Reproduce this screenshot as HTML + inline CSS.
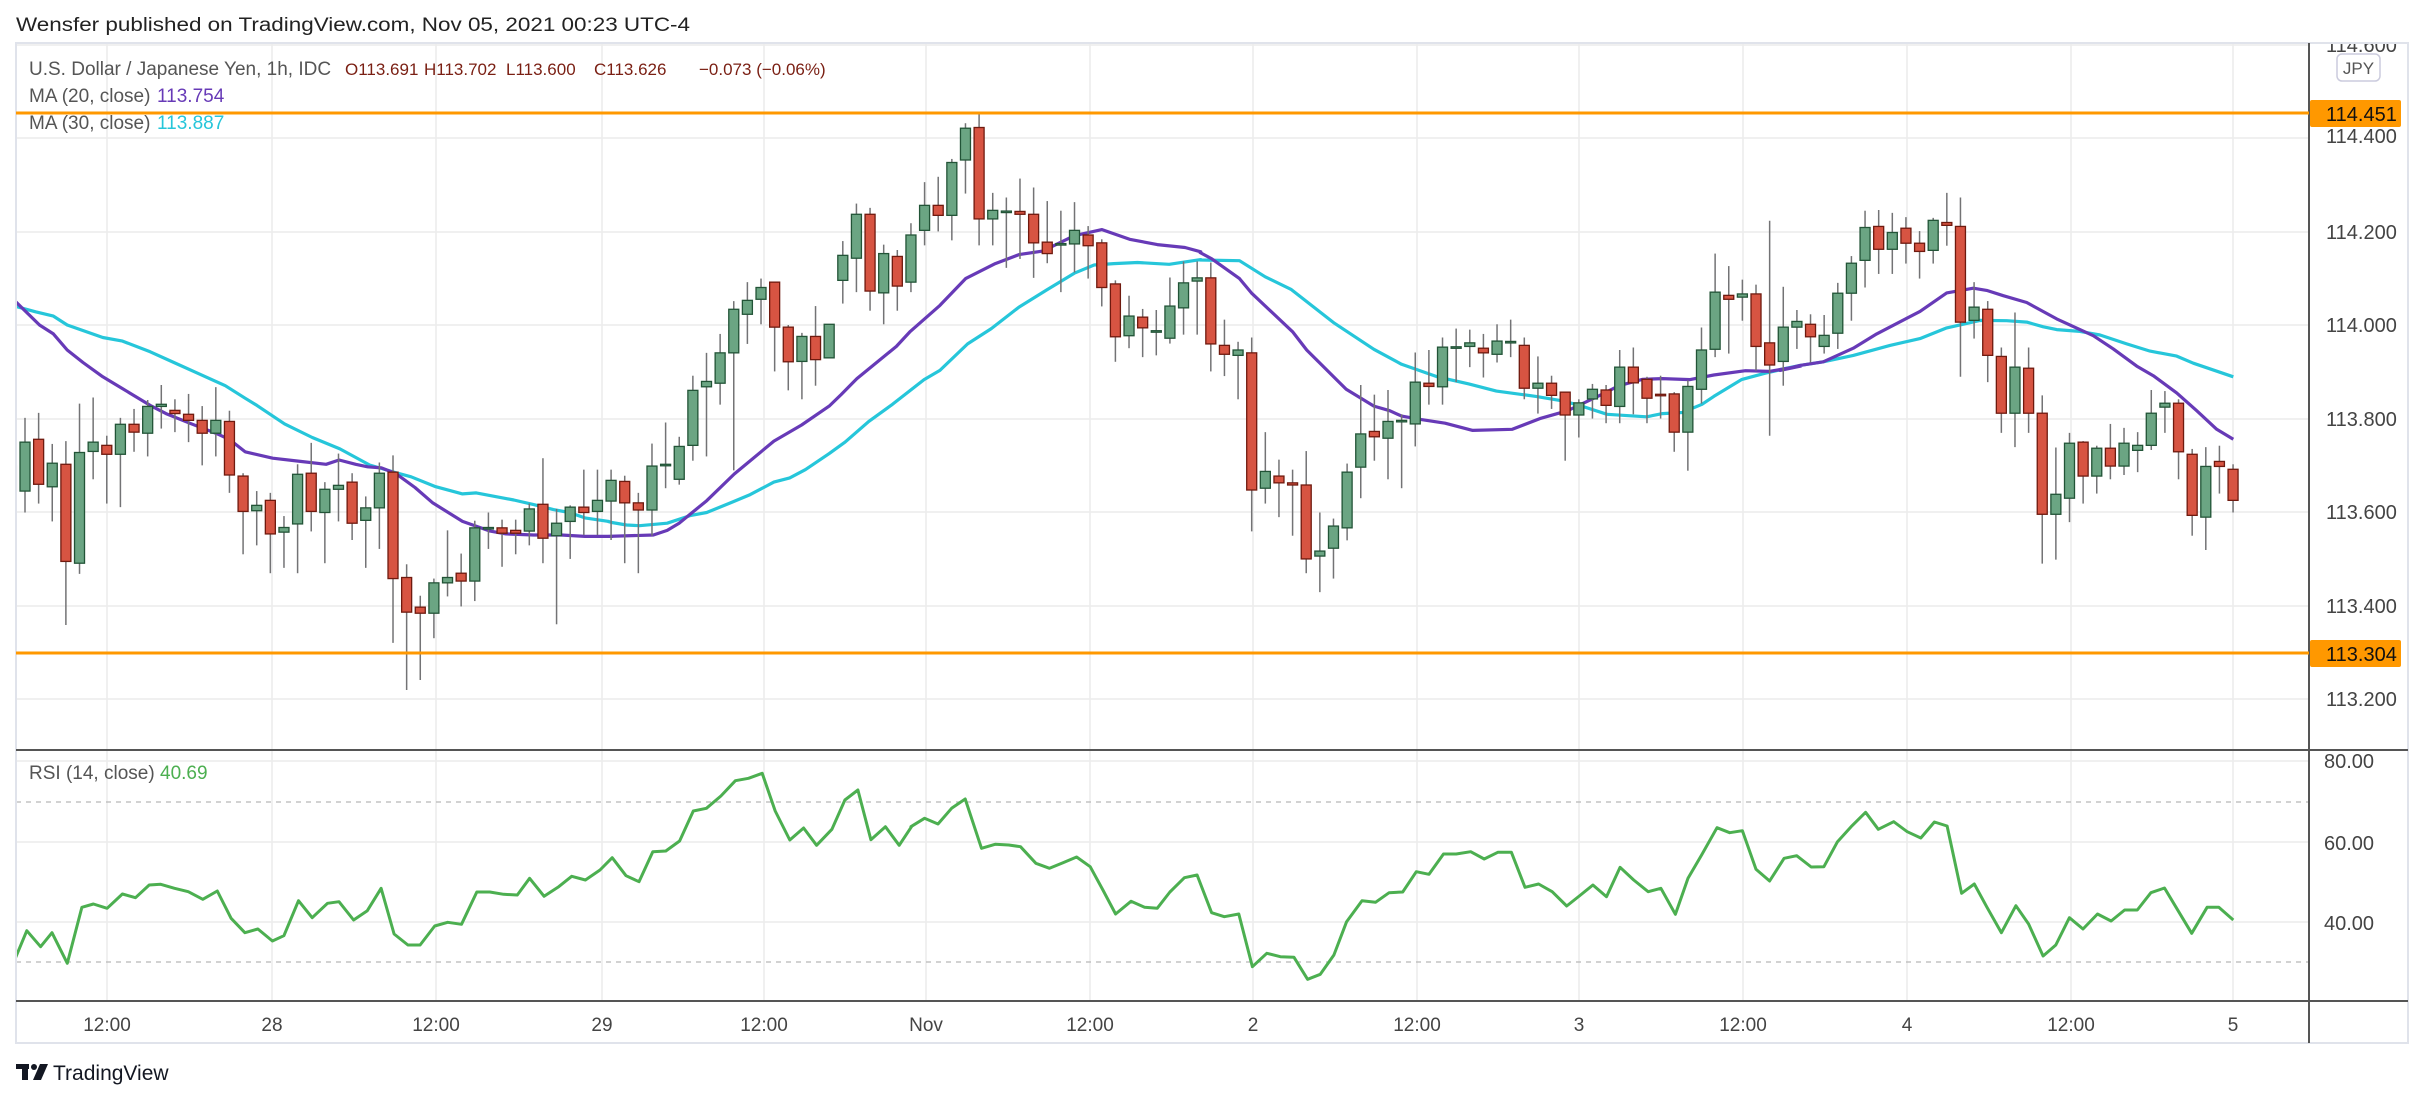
<!DOCTYPE html>
<html><head><meta charset="utf-8">
<style>
html,body{margin:0;padding:0;background:#fff;}
svg{display:block;}
text{font-family:"Liberation Sans",sans-serif;}
</style></head>
<body>
<svg id="s" width="2425" height="1099" viewBox="0 0 2425 1099" xmlns="http://www.w3.org/2000/svg">
<rect width="2425" height="1099" fill="#fff"/>
<defs>
<clipPath id="cm"><rect x="16" y="44" width="2293" height="705"/></clipPath>
<clipPath id="cr"><rect x="16" y="750" width="2293" height="251"/></clipPath>
<clipPath id="ca"><rect x="2310" y="44" width="98" height="705"/></clipPath>
</defs>
<g id="grid"></g>
<g id="ma" clip-path="url(#cm)"></g>
<g id="cand" clip-path="url(#cm)"></g>
<g id="rsi" clip-path="url(#cr)"></g>
<rect x="16" y="43" width="2392" height="1000" fill="none" stroke="#e0e3eb" stroke-width="2"/>
<line x1="2309" y1="43" x2="2309" y2="1043" stroke="#555" stroke-width="2"/>
<line x1="16" y1="750" x2="2408" y2="750" stroke="#555" stroke-width="2"/>
<line x1="16" y1="1001" x2="2408" y2="1001" stroke="#555" stroke-width="2"/>
<line x1="16" y1="113" x2="2309" y2="113" stroke="#ff9800" stroke-width="3"/>
<line x1="16" y1="653" x2="2309" y2="653" stroke="#ff9800" stroke-width="3"/>
<text x="16" y="31" font-size="19" fill="#222" textLength="674" lengthAdjust="spacingAndGlyphs">Wensfer published on TradingView.com, Nov 05, 2021 00:23 UTC-4</text>
<text x="29" y="75" font-size="19" fill="#555">U.S. Dollar / Japanese Yen, 1h, IDC<tspan x="345" font-size="17" fill="#7a1f13">O113.691</tspan><tspan x="424" font-size="17" fill="#7a1f13">H113.702</tspan><tspan x="506" font-size="17" fill="#7a1f13">L113.600</tspan><tspan x="594" font-size="17" fill="#7a1f13">C113.626</tspan><tspan x="699" font-size="17" fill="#7a1f13">−0.073 (−0.06%)</tspan></text>
<text x="29" y="102" font-size="19" fill="#555">MA (20, close)<tspan x="157" fill="#673ab7">113.754</tspan></text>
<text x="29" y="129" font-size="19" fill="#555">MA (30, close)<tspan x="157" fill="#26c6da">113.887</tspan></text>
<text x="29" y="779" font-size="19" fill="#555">RSI (14, close)<tspan x="160" fill="#4caf50">40.69</tspan></text>
<g font-size="20" fill="#444" clip-path="url(#ca)">
<text x="2326" y="52">114.600</text>
<text x="2326" y="143">114.400</text>
<text x="2326" y="239">114.200</text>
<text x="2326" y="332">114.000</text>
<text x="2326" y="426">113.800</text>
<text x="2326" y="519">113.600</text>
<text x="2326" y="613">113.400</text>
<text x="2326" y="706">113.200</text>
</g>
<rect x="2337" y="54" width="43" height="27" rx="5" fill="#fff" stroke="#ccd" stroke-width="1.5"/>
<text x="2358.5" y="74" font-size="17" fill="#555" text-anchor="middle">JPY</text>
<rect x="2310" y="100" width="91" height="27" rx="2" fill="#ff9800"/>
<text x="2326" y="121" font-size="20" fill="#111">114.451</text>
<rect x="2310" y="640" width="91" height="27" rx="2" fill="#ff9800"/>
<text x="2326" y="661" font-size="20" fill="#111">113.304</text>
<g font-size="20" fill="#444">
<text x="2324" y="768">80.00</text>
<text x="2324" y="850">60.00</text>
<text x="2324" y="930">40.00</text>
</g>
<g font-size="19" fill="#444" text-anchor="middle">
<text x="107" y="1031">12:00</text><text x="272" y="1031">28</text><text x="436" y="1031">12:00</text>
<text x="602" y="1031">29</text><text x="764" y="1031">12:00</text><text x="926" y="1031">Nov</text>
<text x="1090" y="1031">12:00</text><text x="1253" y="1031">2</text><text x="1417" y="1031">12:00</text>
<text x="1579" y="1031">3</text><text x="1743" y="1031">12:00</text><text x="1907" y="1031">4</text>
<text x="2071" y="1031">12:00</text><text x="2233" y="1031">5</text>
</g>
<g fill="#131722">
<rect x="16" y="1064" width="13" height="5"/><rect x="22" y="1064" width="6" height="16"/>
<circle cx="34" cy="1067" r="3"/>
<polygon points="40,1064 48,1064 41,1080 33,1080"/>
</g>
<text x="53" y="1080" font-size="21" fill="#131722">TradingView</text>
</svg>
<script>
var NS="http://www.w3.org/2000/svg";
function el(p,t,a){var e=document.createElementNS(NS,t);for(var k in a)e.setAttribute(k,a[k]);p.appendChild(e);return e;}
var G=document.getElementById('grid');
var vx=[107,272,436,602,764,926,1090,1253,1417,1579,1743,1907,2071,2233];
vx.forEach(function(x){el(G,'line',{x1:x,y1:44,x2:x,y2:1001,stroke:'#ececec','stroke-width':1.5});});
[45,138,232,325,419,512,606,699].forEach(function(y){el(G,'line',{x1:16,y1:y,x2:2309,y2:y,stroke:'#ececec','stroke-width':1.5});});
[761,842,922].forEach(function(y){el(G,'line',{x1:16,y1:y,x2:2309,y2:y,stroke:'#ececec','stroke-width':1.5});});
[802,962].forEach(function(y){el(G,'line',{x1:16,y1:y,x2:2309,y2:y,stroke:'#b8b8b8','stroke-width':1.3,'stroke-dasharray':'5,5'});});

var C=[
[1025,1095,1025,1095,0],[958,1095,890,1155,1],[950,1076,876,1130,0],[1017,1083,963,1180,1],[1020,1292,955,1470,0],[987,1297,850,1327,1],[958,984,833,1062,1],[967,992,940,1130,0],[908,992,890,1140,1],[908,930,865,985,0],[858,933,840,998,1],[852,858,798,920,1],[869,878,838,930,0],[880,897,823,958,0],[897,933,857,1023,0],[897,933,804,998,1],[900,1050,870,1100,0],[1053,1152,1045,1272,0],[1135,1150,1095,1247,1],[1121,1215,1100,1325,0],[1197,1210,1165,1310,1],[1048,1187,1020,1325,1],[1045,1152,960,1208,0],[1090,1155,1070,1297,1],[1079,1090,990,1180,1],[1070,1185,1045,1232,0],[1142,1177,1110,1310,1],[1045,1142,1015,1257,1],[1042,1340,995,1520,0],[1337,1434,1300,1652,0],[1420,1437,1388,1624,0],[1352,1437,1340,1507,1],[1337,1352,1205,1390,1],[1325,1347,1270,1418,0],[1198,1347,1178,1403,1],[1197,1200,1155,1257,1],[1198,1213,1175,1307,0],[1205,1213,1175,1272,0],[1145,1207,1130,1247,1],[1132,1227,1003,1297,0],[1185,1220,1145,1468,1],[1140,1180,1135,1285,1],[1140,1155,1035,1218,0],[1121,1152,1035,1218,1],[1065,1123,1035,1232,1],
[1068,1128,1052,1297,0],[1128,1148,1100,1325,0],[1025,1148,962,1220,1],[1020,1023,903,1087,1],[970,1062,943,1077,1],[813,967,772,1010,1],[788,803,708,998,1],[708,793,655,853,1],[586,708,563,1037,1],[561,600,510,683,1],[525,558,500,628,1],[510,636,510,760,0],[636,733,630,813,0],[662,732,652,838,1],[662,727,577,800,0],[628,722,628,722,1],[435,505,395,570,1],[320,443,290,538,1],[320,535,302,590,0],[430,540,405,628,1],[438,521,420,590,0],[378,510,345,538,1],[295,365,230,407,1],[295,323,215,368,0],[175,323,165,393,1],[79,168,65,262,1],[77,333,40,407,0],[309,333,260,407,1],[311,313,273,470,1],[312,320,220,445,0],[320,400,245,498,0],[398,430,283,457,0],[402,404,310,538,1],[365,403,286,483,1],[378,408,353,500,0],[400,525,390,578,0],[515,663,505,733,0],[605,660,548,695,1],[608,638,585,720,0],[646,648,588,715,1],[577,667,497,682,1],[512,582,452,657,1],[498,507,452,657,1],[498,683,455,760,0],
[687,712,615,773,0],[700,715,677,838,1],[708,1092,665,1208,0],[1040,1087,930,1130,1],[1053,1072,1007,1168,0],[1072,1078,1035,1220,0],[1078,1285,983,1325,0],[1263,1277,1155,1378,1],[1193,1255,1172,1340,1],[1042,1198,1018,1233,1],[935,1028,798,1115,1],[928,943,825,1010,0],[900,947,812,1062,1],[897,899,880,1087,1],[790,907,707,970,1],[793,802,700,853,0],[692,803,665,853,1],[691,693,640,790,1],[680,690,643,748,1],[695,708,655,777,0],[675,712,628,735,1],[676,678,615,720,1],[687,807,665,838,0],[793,807,718,878,1],[793,827,772,865,0],[818,882,818,1010,0],[848,882,838,945,1],[810,837,795,892,1],[812,855,798,905,0],[748,858,700,905,1],[748,792,693,880,0],[782,835,775,905,0],[824,826,772,892,0],[823,930,818,985,0],[802,930,785,1038,1],[700,810,637,850,1],[538,698,430,720,1],[547,558,465,710,0],[543,552,503,618,1],[543,690,517,758,0],[680,742,338,940,0],[636,732,523,800,1],[620,636,588,697,1],[628,663,600,735,0],
[659,690,602,710,1],[541,653,512,697,1],[457,541,437,618,1],[357,449,310,525,1],[354,418,308,487,0],[371,418,316,487,1],[359,401,328,458,0],[401,424,367,500,0],[337,421,330,458,1],[343,351,260,408,0],[354,622,273,775,0],[580,617,510,668,1],[586,715,563,790,0],[718,877,693,932,0],[748,877,595,972,1],[751,877,693,932,0],[877,1160,827,1298,0],[1104,1160,973,1287,1],[961,1115,932,1182,1],[958,1053,955,1130,0],[975,1053,968,1102,1],[975,1025,907,1062,0],[961,1025,918,1050,1],[967,981,930,1042,1],[877,967,812,980,1],[849,860,815,932,1],[849,985,838,1062,0],[992,1163,977,1220,0],[1026,1168,972,1260,1],[1012,1026,968,1102,0],[1034,1121,1020,1155,0]];
var K=document.getElementById('cand');
C.forEach(function(c,j){var i=j-1;var x=25+13.63*i;function Y(v){return 100+v/2.8;}
 el(K,'line',{x1:x,y1:Y(c[2]),x2:x,y2:Y(c[3]),stroke:'#737375','stroke-width':1.5});
 var t=Y(c[0]),b=Y(c[1]);if(b-t<1.5)b=t+1.5;
 el(K,'rect',{x:x-5,y:t,width:10,height:b-t,fill:c[4]?'#6ba583':'#d75442',stroke:c[4]?'#225437':'#6f1a0f','stroke-width':1.3});
});
function conv(arr,ox,sx){return arr.map(function(p){return [ox+p[0]/sx,100+p[1]/2.8];});}
var P=[].concat(
conv([[40,565],[100,630],[135,655],[170,700],[210,735],[260,775],[310,808],[380,855],[420,878],[480,905],[550,935],[580,950],[620,985],[690,1003],[760,1012],[825,1020],[858,1008],[900,1020],[930,1027],[965,1030],[1000,1045],[1050,1085],[1095,1128],[1170,1180],[1240,1207],[1280,1215],[1350,1218],[1420,1218],[1480,1222],[1550,1222]],0,2.53),
conv([[20,1222],[135,1218],[170,1205],[200,1185],[270,1122],[340,1047],[440,955],[510,910],[580,857],[610,825],[650,780],[750,690],[785,648],[860,575],[925,500],[1000,458],[1060,433],[1120,423],[1200,380],[1270,363],[1340,390],[1410,405],[1480,413],[1520,425]],600,2.53),
conv([[0,427],[30,445],[100,500],[130,540],[235,650],[270,700],[370,810],[440,857],[480,870],[510,885],[560,895],[620,905],[690,925],[790,922],[860,892],[930,870],[1010,828],[1060,800],[1120,782],[1170,780],[1240,783],[1300,770],[1380,758],[1440,760],[1520,745]],1200,2.53),
conv([[0,757],[60,743],[130,733],[220,695],[290,655],[420,592],[500,540],[580,527],[620,533],[670,548],[740,567],[830,613],[940,660],[1000,697],[1070,745],[1120,772],[1190,820],[1250,870],[1310,922],[1360,950]],1780,3));
var Q=[].concat(
conv([[40,578],[90,593],[135,605],[170,630],[260,665],[310,675],[380,705],[440,735],[500,765],[570,800],[620,835],[650,855],[720,907],[790,945],[860,977],[935,1022],[1000,1043],[1040,1055],[1100,1082],[1170,1103],[1205,1100],[1300,1120],[1350,1133],[1400,1147],[1440,1155],[1480,1170],[1540,1180]],0,2.53),
conv([[20,1180],[30,1183],[67,1190],[100,1192],[170,1185],[230,1163],[270,1155],[330,1128],[380,1105],[440,1070],[480,1058],[520,1035],[580,990],[620,958],[680,900],[740,852],[820,783],[860,757],[930,683],[990,640],[1060,580],[1130,532],[1200,485],[1250,462],[1300,458],[1360,455],[1440,460],[1520,447]],600,2.53),
conv([[0,448],[100,450],[165,495],[230,530],[340,625],[440,698],[510,740],[600,775],[680,795],[750,815],[850,830],[920,843],[960,855],[1030,880],[1130,887],[1170,878],[1220,875],[1270,852],[1300,830],[1370,783],[1430,765],[1500,748]],1200,2.53),
conv([[0,755],[60,743],[130,733],[220,715],[330,687],[420,668],[500,638],[600,617],[680,618],[740,622],[790,635],[830,643],[900,648],[960,658],[1040,683],[1110,703],[1190,717],[1240,737],[1360,775]],1780,3));
var M=document.getElementById('ma');
function pl(g,pts,col,w){el(g,'polyline',{points:pts.map(function(p){return p[0].toFixed(1)+','+p[1].toFixed(1);}).join(' '),fill:'none',stroke:col,'stroke-width':w,'stroke-linejoin':'round'});}
pl(M,Q,'#26c6da',3.2);pl(M,P,'#673ab7',3.2);
function rc(arr,ox,sx){return arr.map(function(p){return [ox+p[0]/sx,740+p[1]/3];});}
var R=[].concat(
rc([[20,655],[35,572],[53,620],[68,578],[88,670],[107,502],[122,492],[140,505],[160,462],[177,473],[195,435],[210,433],[228,445],[246,455],[265,478],[284,453],[302,535],[320,578],[337,567],[356,603],[371,587],[390,482],[408,533],[428,490],[443,485],[462,540],[480,512],[498,445],[515,582],[533,615],[549,615],[568,558],[585,547],[603,553],[623,456],[640,456],[658,463],[676,465],[692,415],[711,469],[730,440],[747,409],[765,420],[784,390],[800,353],[818,407],[835,425],[853,335],[870,333],[888,303],[906,213],[923,205],[942,168],[961,122],[978,115],[996,100],[1013,213],[1032,300],[1050,264],[1067,316],[1087,268],[1104,180],[1121,150],[1138,299],[1157,260],[1175,316],[1191,260]],0,1.3067),
rc([[12,260],[27,235],[42,252],[57,205],[72,177],[90,325],[105,313],[120,315],[133,320],[150,370],[165,385],[180,368],[195,351],[210,380],[224,450],[238,522],[255,484],[270,502],[284,505],[298,456],[314,413],[328,405],[344,518],[358,530],[374,522],[389,680],[405,640],[420,650],[435,652],[450,718],[464,703],[479,645],[493,545],[510,482],[525,487],[540,458],[555,456],[570,395],[584,403],[600,342],[614,342],[630,335],[645,357],[660,337],[675,337],[690,442],[705,432],[720,455],[736,498],[750,468],[765,435],[780,470],[795,382],[810,420],[826,455],[840,445],[856,523],[870,415],[885,345],[902,263],[916,278],[930,272],[945,388],[960,423],[976,355],[990,347],[1006,381],[1020,380],[1035,305],[1050,260],[1066,217],[1080,268],[1097,245],[1112,275],[1127,294],[1142,246],[1156,258],[1172,460],[1186,432],[1200,502],[1216,578],[1232,497],[1246,552],[1262,648],[1276,615],[1291,533],[1306,567],[1322,522],[1337,543],[1352,510],[1366,510],[1381,458],[1396,444],[1411,512],[1426,580],[1443,502],[1456,502],[1472,540]],900,1.104));
pl(document.getElementById('rsi'),R,'#4caf50',3);
</script>
</body></html>
